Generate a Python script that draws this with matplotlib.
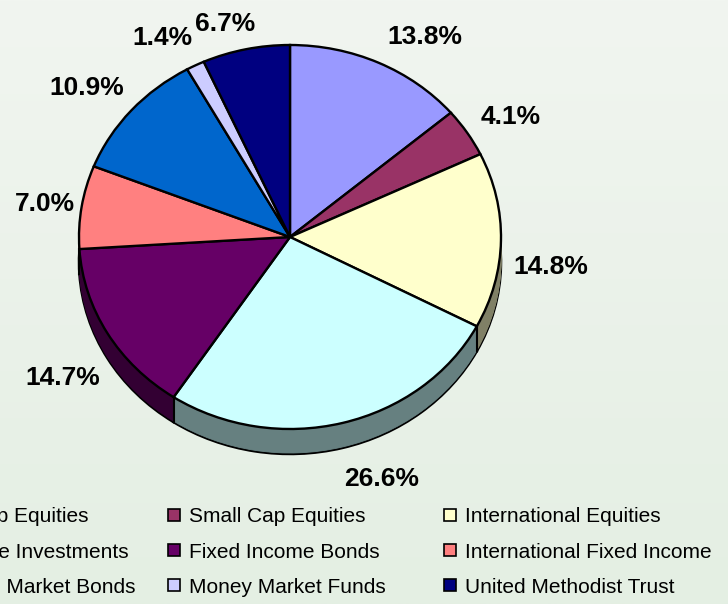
import numpy as np
import matplotlib
matplotlib.use('Agg')
import matplotlib.pyplot as plt
from matplotlib.lines import Line2D
from matplotlib.colors import to_rgb

plt.rcParams['font.family'] = ['Liberation Sans', 'DejaVu Sans']

# ---------------- data ----------------
categories = ['Large Cap Equities', 'Small Cap Equities', 'International Equities',
              'Alternative Investments', 'Fixed Income Bonds', 'International Fixed Income',
              'Emerging Market Bonds', 'Money Market Funds', 'United Methodist Trust']
values = [13.8, 4.1, 14.8, 26.6, 14.7, 7.0, 10.9, 1.4, 6.7]
pct_labels = ['13.8%', '4.1%', '14.8%', '26.6%', '14.7%', '7.0%', '10.9%', '1.4%', '6.7%']
colors = ['#9999FF', '#993366', '#FFFFCC', '#CCFFFF', '#660066', '#FF8080',
          '#0066CC', '#CCCCFF', '#000080']

# ---------------- layout ----------------
W, H = 728, 604
cx, cy = 290, 237          # pie centre (px, from top)
rx, ry = 211, 192          # ellipse radii (px)
depth_px = 25
# label centres (px from left / top)
label_xy = [(425, 37), (511, 117), (551, 267), (382, 479), (63, 378),
            (45, 204), (87, 88), (162, 38), (225, 24)]

fig = plt.figure(figsize=(W / 100, H / 100), dpi=100)

# gradient background
bg = fig.add_axes([0, 0, 1, 1], zorder=-10)
top_c = np.array(to_rgb('#F1F5F0'))
bot_c = np.array(to_rgb('#E4EFE3'))
t = np.linspace(0, 1, 256)[:, None, None]
grad = top_c[None, None, :] * (1 - t) + bot_c[None, None, :] * t
bg.imshow(grad, aspect='auto', extent=[0, 1, 0, 1])
bg.axis('off')

k = 1.5
ax = fig.add_axes([(cx - k * rx) / W, (H - cy - k * ry) / H, 2 * k * rx / W, 2 * k * ry / H])
d = depth_px / ry
side_colors = [tuple(np.array(to_rgb(c)) * 0.5) for c in colors]

n_layers = depth_px + 1
offsets = np.linspace(d, 0, n_layers)
for i, off in enumerate(offsets):
    if i == n_layers - 1:
        wedges, _ = ax.pie(values, colors=colors, startangle=90, counterclock=False,
                           center=(0, -off), radius=1,
                           wedgeprops=dict(edgecolor='black', linewidth=1.7))
    elif i == 0:
        wedges, _ = ax.pie(values, colors=side_colors, startangle=90, counterclock=False,
                           center=(0, -off), radius=1,
                           wedgeprops=dict(edgecolor='black', linewidth=1.8))
    else:
        wedges, _ = ax.pie(values, colors=side_colors, startangle=90, counterclock=False,
                           center=(0, -off), radius=1,
                           wedgeprops=dict(linewidth=0.6))
        for w in wedges:
            w.set_edgecolor(w.get_facecolor())

# vertical edges of the side wall at slice boundaries on the front
cum = np.cumsum([0] + values) / np.sum(values) * 360.0
for a in cum[:-1]:
    th = np.deg2rad(a)
    x, y = np.sin(th), np.cos(th)
    if y < -0.02:
        ax.plot([x, x], [y, y - d], color='black', lw=1.5, zorder=5)

ax.set_xlim(-k, k)
ax.set_ylim(-k, k)
ax.set_aspect('auto')
ax.axis('off')

# percentage labels
for lab, (lx, ly) in zip(pct_labels, label_xy):
    fig.text(lx / W, 1 - ly / H, lab, ha='center', va='center',
             fontsize=19, fontweight='bold', color='black')

# legend: three columns, entries ordered row-wise
col_x = [-112, 166, 442]
for c in range(3):
    idx = [c, c + 3, c + 6]
    handles = [Line2D([], [], linestyle='none', marker='s', markersize=8.6,
                      markerfacecolor=colors[j], markeredgecolor='black',
                      markeredgewidth=1.2) for j in idx]
    fig.legend(handles, [categories[j] for j in idx], loc='center left',
               bbox_to_anchor=(col_x[c] / W, 1 - 552 / H), frameon=False,
               fontsize=15, handlelength=0.8, handletextpad=0.3,
               labelspacing=0.77, borderpad=0, borderaxespad=0)

fig.savefig('out.png', dpi=100)
